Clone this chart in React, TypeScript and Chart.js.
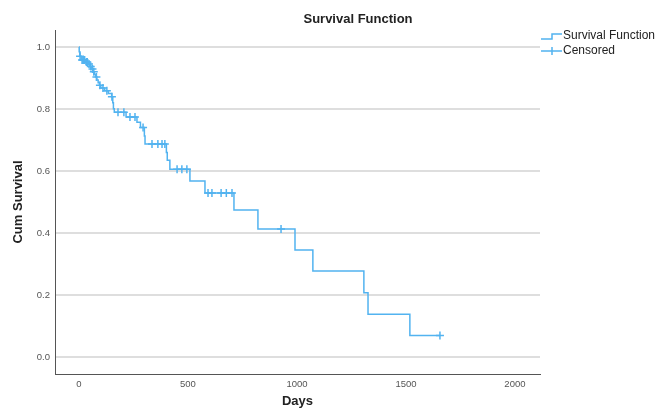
import React, { useEffect, useRef } from "react";
import { Chart, registerables } from "chart.js";

Chart.register(...registerables);

const FONT = "'Liberation Sans', Arial, Helvetica, sans-serif";

const titleText = "Survival Function";
const xAxisTitle = "Days";
const yAxisTitle = "Cum Survival";
const legendLabels = ["Survival Function", "Censored"];

const xTickValues = [0, 500, 1000, 1500, 2000];
const yTickValues = [0, 0.2, 0.4, 0.6, 0.8, 1.0];

// Kaplan-Meier step points (time in days, cumulative survival after event)
const survivalTimes = [
  0, 1, 4, 10, 30, 42, 50, 58, 64, 70, 76, 82, 88, 94, 100, 118, 135, 150, 155,
  158, 162, 216, 266, 282, 300, 303, 401, 405, 417, 509, 578, 711, 821, 991,
  1073, 1307, 1326, 1518, 1656,
];
const survivalValues = [
  1.0, 0.985, 0.97, 0.958, 0.952, 0.945, 0.937, 0.929, 0.92, 0.912, 0.903,
  0.894, 0.885, 0.877, 0.868, 0.859, 0.85, 0.84, 0.82, 0.801, 0.79, 0.774,
  0.757, 0.74, 0.713, 0.687, 0.66, 0.635, 0.606, 0.568, 0.529, 0.474, 0.413,
  0.345, 0.277, 0.207, 0.138, 0.069, 0.069,
];

// Censored observations
const censorTimes = [
  5, 14, 18, 22, 26, 34, 38, 46, 54, 62, 68, 80, 96, 110, 128, 151, 179, 206,
  234, 257, 294, 335, 362, 381, 394, 450, 472, 495, 592, 610, 652, 676, 702,
  927, 1656,
];
const censorValues = [
  0.97, 0.958, 0.958, 0.958, 0.958, 0.952, 0.952, 0.945, 0.937, 0.929, 0.92,
  0.903, 0.877, 0.868, 0.859, 0.84, 0.79, 0.79, 0.774, 0.774, 0.74, 0.687,
  0.687, 0.687, 0.687, 0.606, 0.606, 0.606, 0.529, 0.529, 0.529, 0.529, 0.529,
  0.413, 0.069,
];

const LINE_COLOR = "#52b3f0";

const overlayPlugin = {
  id: "overlayTitleLegend",
  afterDraw(chart: any) {
    const { ctx, chartArea } = chart;
    ctx.save();
    // Title
    ctx.fillStyle = "#222";
    ctx.font = `bold 13px ${FONT}`;
    ctx.textAlign = "center";
    ctx.textBaseline = "middle";
    ctx.fillText(titleText, (chartArea.left + chart.width) / 2 + 2, 19);

    // Legend
    const lx = chartArea.right + 1;
    ctx.strokeStyle = LINE_COLOR;
    ctx.lineWidth = 1.5;
    ctx.beginPath();
    ctx.moveTo(lx, 39);
    ctx.lineTo(lx + 11, 39);
    ctx.lineTo(lx + 11, 34);
    ctx.lineTo(lx + 21, 34);
    ctx.stroke();

    ctx.beginPath();
    ctx.moveTo(lx, 51);
    ctx.lineTo(lx + 21, 51);
    ctx.moveTo(lx + 11, 47);
    ctx.lineTo(lx + 11, 55);
    ctx.stroke();

    ctx.fillStyle = "#222";
    ctx.font = `12px ${FONT}`;
    ctx.textAlign = "left";
    ctx.textBaseline = "middle";
    ctx.fillText(legendLabels[0], lx + 22, 36);
    ctx.fillText(legendLabels[1], lx + 22, 51);
    ctx.restore();
  },
};

export default function App() {
  const canvasRef = useRef<HTMLCanvasElement | null>(null);

  useEffect(() => {
    document.body.style.margin = "0";
    const canvas = canvasRef.current;
    if (!canvas) return;

    const survivalData = survivalTimes.map((t, i) => ({ x: t, y: survivalValues[i] }));
    const censorData = censorTimes.map((t, i) => ({ x: t, y: censorValues[i] }));

    const chart = new Chart(canvas, {
      type: "line",
      data: {
        datasets: [
          {
            label: legendLabels[0],
            data: survivalData,
            stepped: "before",
            borderColor: LINE_COLOR,
            borderWidth: 1.5,
            pointRadius: 0,
            fill: false,
          },
          {
            label: legendLabels[1],
            data: censorData,
            showLine: false,
            pointStyle: "cross",
            pointRadius: 4,
            pointBorderWidth: 1.5,
            borderColor: LINE_COLOR,
            backgroundColor: LINE_COLOR,
          },
        ],
      },
      options: {
        responsive: false,
        animation: false,
        devicePixelRatio: 1,
        layout: { padding: { left: 0, top: 30, right: 117, bottom: 0 } },
        plugins: {
          legend: { display: false },
          title: { display: false },
          tooltip: { enabled: false },
        },
        scales: {
          x: {
            type: "linear",
            min: -110,
            max: 2115,
            afterBuildTicks: (axis: any) => {
              axis.ticks = xTickValues.map((v) => ({ value: v }));
            },
            afterFit: (scale: any) => {
              scale.height = 40;
            },
            grid: { display: false, drawTicks: false },
            border: { display: true, color: "#555", width: 1 },
            ticks: {
              padding: 5,
              color: "#555",
              font: { family: FONT, size: 9.5 },
              maxRotation: 0,
              callback: (v: any) => String(v),
            },
            title: {
              display: true,
              text: xAxisTitle,
              color: "#222",
              font: { family: FONT, size: 13, weight: "bold" },
              padding: { top: 0, bottom: 5 },
            },
          },
          y: {
            type: "linear",
            min: -0.055,
            max: 1.055,
            afterBuildTicks: (axis: any) => {
              axis.ticks = yTickValues.map((v) => ({ value: v }));
            },
            afterFit: (scale: any) => {
              scale.width = 55;
            },
            grid: { color: "#dedede", lineWidth: 2, drawTicks: false },
            border: { display: true, color: "#555", width: 1 },
            ticks: {
              padding: 5,
              color: "#555",
              font: { family: FONT, size: 9.5 },
              callback: (v: any) => Number(v).toFixed(1),
            },
            title: {
              display: true,
              text: yAxisTitle,
              color: "#222",
              font: { family: FONT, size: 13, weight: "bold" },
              padding: { top: 11, bottom: 0 },
            },
          },
        },
      },
      plugins: [overlayPlugin],
    });

    return () => chart.destroy();
  }, []);

  return (
    <div style={{ position: "absolute", left: 0, top: 0, width: 657, height: 414, background: "#fff" }}>
      <canvas ref={canvasRef} width={657} height={414} style={{ width: 657, height: 414 }} />
    </div>
  );
}
